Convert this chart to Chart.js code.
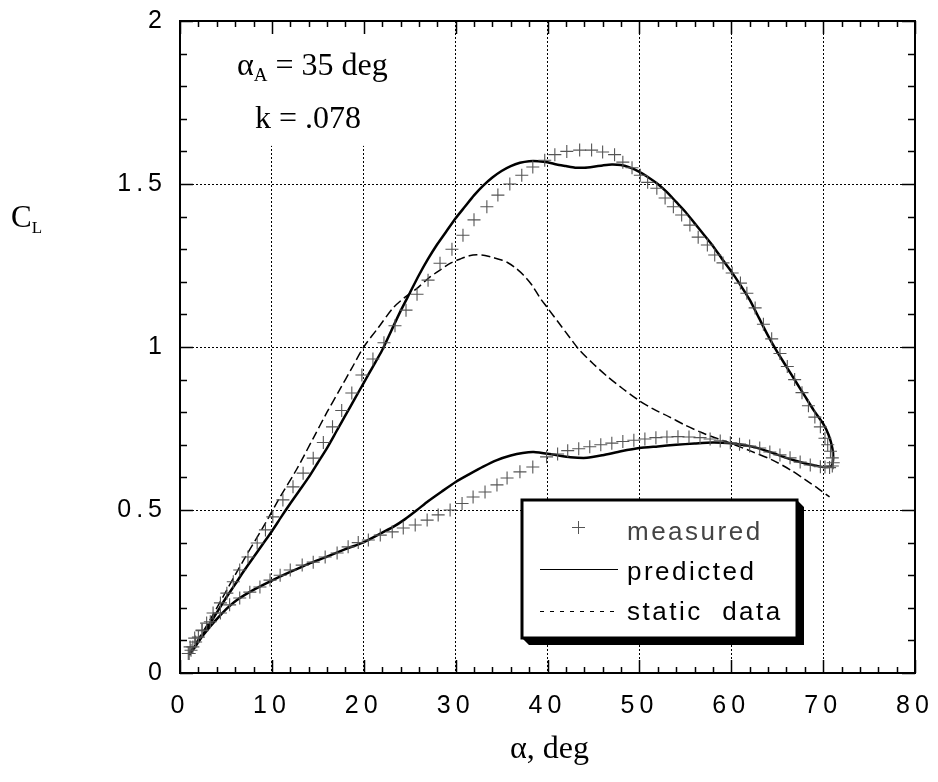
<!DOCTYPE html>
<html><head><meta charset="utf-8">
<script src="https://cdn.jsdelivr.net/npm/chart.js@4/dist/chart.umd.min.js"></script>
<style>html,body{margin:0;padding:0;background:#fff}#wrap{width:938px;height:782px}</style>
</head><body><div id="wrap"><canvas id="c" width="938" height="782"></canvas></div>
<script>
// ---- data (alpha in deg, CL) ----
const xTickLabels = ['0','10','20','30','40','50','60','70','80'];
const yTickLabels = ['0','0.5','1','1.5','2'];

const measuredUpAlpha = [1.0,1.2,1.4,1.7,2.0,2.4,2.9,3.6,4.4,5.1,5.8,6.5,7.4,8.4,9.3,10.1,11.2,12.3,13.4,14.5,15.6,16.6,17.6,18.7,19.8,21.0,22.2,23.4,24.6,25.8,27.0,28.3,29.6,30.8,32.0,33.4,34.6,35.9,37.2,38.4,39.7,40.8,42.1,43.5,44.8,46.0,47.3,48.2,49.2,50.1,50.9,51.9,52.8,53.7,54.6,55.5,56.4,57.4,58.2,59.1,60.1,61.0,61.7,62.6,63.5,64.4,65.3,66.1,66.9,67.7,68.4,69.1,69.7,70.2,70.5,70.8,71.0,71.1];
const measuredUpCL    = [0.06,0.07,0.08,0.095,0.11,0.13,0.153,0.184,0.215,0.245,0.28,0.316,0.356,0.399,0.439,0.479,0.531,0.571,0.613,0.659,0.707,0.755,0.805,0.859,0.914,0.963,1.013,1.065,1.113,1.162,1.205,1.257,1.300,1.343,1.390,1.430,1.466,1.500,1.527,1.552,1.573,1.590,1.600,1.604,1.604,1.598,1.590,1.567,1.550,1.527,1.505,1.487,1.457,1.430,1.405,1.374,1.337,1.313,1.282,1.258,1.227,1.196,1.165,1.120,1.070,1.025,0.980,0.940,0.900,0.860,0.820,0.785,0.755,0.720,0.700,0.680,0.660,0.645];

const measuredDownAlpha = [71.0,70.7,70.2,69.7,68.6,67.5,66.4,65.3,64.2,63.1,62.0,60.9,59.9,58.8,57.7,56.6,55.4,54.2,53.0,51.8,50.6,49.4,48.2,47.0,45.8,44.6,43.4,42.2,41.1,39.9,38.4,37.0,35.6,34.5,33.2,31.9,30.7,29.4,28.1,26.9,25.6,24.3,23.1,21.8,20.5,19.4,18.3,17.1,15.8,14.5,13.3,12.0,10.9,9.8,8.7,7.6,6.5,5.4,4.4,3.3,2.4,1.6,1.1,0.9];
const measuredDownCL    = [0.635,0.630,0.632,0.633,0.638,0.647,0.660,0.669,0.678,0.690,0.696,0.702,0.706,0.712,0.718,0.722,0.724,0.725,0.724,0.722,0.718,0.714,0.710,0.705,0.700,0.694,0.688,0.682,0.672,0.663,0.632,0.617,0.598,0.577,0.555,0.540,0.520,0.500,0.485,0.469,0.454,0.445,0.433,0.423,0.408,0.400,0.387,0.368,0.356,0.340,0.331,0.316,0.300,0.285,0.264,0.248,0.230,0.209,0.184,0.157,0.132,0.107,0.080,0.060];

const predictedAlpha = [1,2,3,4,5,6,7,8,9,10,11,12,13,14,15,16,17,18,19,20,21,22,23,24,25,26,27,28,29,30,31,32,33,34,35,36,37,38,39,40,41,42,43,44,45,46,47,48,49,50,51,52,53,54,55,56,57,58,59,60,61,62,63,64,65,66,67,68,69,70,70.6,71,71.1,70.9,
  70,69,68,67,66,65,64,63,62,61,60,58,56,54,52,50,48,46,44.3,42.5,40.6,38.5,37.3,36,34.5,33,31.5,30,28.5,27,25.8,24.5,23.2,21.5,19.9,18,16,14,12,10.1,8,6.2,5,4,3,2,1];
const predictedCL = [0.055,0.095,0.14,0.185,0.23,0.272,0.315,0.355,0.395,0.435,0.478,0.52,0.56,0.60,0.645,0.69,0.74,0.79,0.84,0.89,0.94,0.99,1.05,1.11,1.165,1.22,1.27,1.315,1.355,1.395,1.43,1.465,1.495,1.52,1.54,1.555,1.565,1.57,1.57,1.567,1.56,1.555,1.55,1.55,1.553,1.557,1.56,1.558,1.55,1.537,1.52,1.50,1.475,1.445,1.415,1.38,1.345,1.31,1.27,1.232,1.19,1.145,1.09,1.035,0.985,0.94,0.895,0.85,0.805,0.765,0.73,0.69,0.66,0.635,
  0.632,0.637,0.643,0.651,0.66,0.67,0.68,0.689,0.696,0.701,0.705,0.707,0.704,0.70,0.695,0.69,0.68,0.668,0.66,0.662,0.67,0.678,0.675,0.667,0.653,0.633,0.61,0.586,0.557,0.527,0.50,0.472,0.448,0.423,0.40,0.38,0.357,0.335,0.31,0.285,0.255,0.224,0.195,0.165,0.133,0.097,0.058];

const staticAlpha = [1,3,5,7,9,10.9,12.7,14.5,16,17.4,18.7,20,21.6,23.2,24.5,25.8,27,28.3,29.5,30.5,31.5,32.3,33.2,34,35,35.6,36.5,37.4,38.3,39.2,40,41.2,42.4,43.5,45,46.5,48.2,49.9,51.5,53.3,55,56.9,58.4,59.9,62,64.5,66.5,68.2,69.5,70.7];
const staticCL    = [0.06,0.15,0.25,0.35,0.445,0.54,0.625,0.72,0.80,0.87,0.935,1.0,1.06,1.12,1.153,1.18,1.21,1.236,1.258,1.27,1.28,1.283,1.281,1.275,1.267,1.26,1.243,1.22,1.19,1.15,1.12,1.075,1.03,0.99,0.948,0.91,0.872,0.837,0.81,0.785,0.76,0.736,0.72,0.705,0.682,0.653,0.622,0.59,0.565,0.54];

const pts = (xs, ys) => xs.map((x, i) => ({x: x, y: ys[i]}));

const SANS = '"Liberation Sans", Arial, Helvetica, sans-serif';
const SERIF = '"Liberation Serif", "Times New Roman", serif';

const decor = {
  id: 'decor',
  beforeDraw(chart) { chart.ctx.letterSpacing = '5px'; },
  beforeDatasetsDraw(chart) {
    const {ctx, chartArea: a, scales: {x, y}} = chart;
    ctx.save();
    ctx.fillStyle = '#fff';
    ctx.fillRect(a.left + 1, a.top + 1, x.getPixelForValue(27) - a.left, y.getPixelForValue(1.62) - a.top);
    ctx.restore();
  },
  afterDatasetsDraw(chart) {
    const {ctx, chartArea: a, scales: {x, y}} = chart;
    ctx.save();
    ctx.letterSpacing = '0px';
    ctx.strokeStyle = '#000';
    ctx.lineWidth = 1.5;
    ctx.beginPath();
    for (let v = 0; v <= 80; v += 2) {
      const px = Math.round(x.getPixelForValue(v)) + 0.5;
      const len = v % 10 === 0 ? 13 : 6;
      ctx.moveTo(px, a.bottom); ctx.lineTo(px, a.bottom - len);
      ctx.moveTo(px, a.top); ctx.lineTo(px, a.top + len);
    }
    for (let k = 0; k <= 20; k++) {
      const py = Math.round(y.getPixelForValue(k / 10)) + 0.5;
      const len = k % 5 === 0 ? 13 : 7;
      ctx.moveTo(a.left, py); ctx.lineTo(a.left + len, py);
      ctx.moveTo(a.right, py); ctx.lineTo(a.right - len, py);
    }
    ctx.stroke();
    ctx.lineWidth = 2;
    ctx.strokeRect(a.left, a.top, a.right - a.left, a.bottom - a.top);

    // annotation
    ctx.fillStyle = '#000';
    ctx.textBaseline = 'alphabetic';
    ctx.textAlign = 'left';
    let tx = 237, ty = 75;
    ctx.font = '32px ' + SERIF;
    ctx.fillText('\u03B1', tx, ty); tx += ctx.measureText('\u03B1').width;
    ctx.font = '19px ' + SERIF;
    ctx.fillText('A', tx, ty + 6); tx += ctx.measureText('A').width;
    ctx.font = '32px ' + SERIF;
    ctx.fillText(' = 35 deg', tx, ty);
    ctx.fillText('k = .078', 255, 128);

    // axis titles
    ctx.font = '31px ' + SERIF;
    ctx.fillText('C', 11, 227);
    const cw = ctx.measureText('C').width;
    ctx.font = '17px ' + SERIF;
    ctx.fillText('L', 11 + cw, 233);
    ctx.font = '32px ' + SERIF;
    ctx.fillText('\u03B1, deg', 510, 758);

    // legend box with shadow
    const L = 522, R = 797, T = 500, B = 638, s = 7;
    ctx.fillStyle = '#000';
    ctx.beginPath();
    ctx.moveTo(R, T); ctx.lineTo(R + s, T + s); ctx.lineTo(R + s, B + s);
    ctx.lineTo(L + s, B + s); ctx.lineTo(L, B); ctx.lineTo(R, B); ctx.closePath();
    ctx.fill();
    ctx.fillStyle = '#fff';
    ctx.fillRect(L, T, R - L, B - T);
    ctx.lineWidth = 3;
    ctx.strokeStyle = '#000';
    ctx.strokeRect(L, T, R - L, B - T);
    ctx.lineWidth = 1;
    ctx.strokeStyle = '#555';
    ctx.beginPath();
    ctx.moveTo(572, 527.5); ctx.lineTo(585, 527.5);
    ctx.moveTo(578.5, 521); ctx.lineTo(578.5, 534);
    ctx.stroke();
    ctx.strokeStyle = '#000';
    ctx.beginPath(); ctx.moveTo(540, 569.5); ctx.lineTo(618, 569.5); ctx.stroke();
    ctx.setLineDash([4, 6]);
    ctx.beginPath(); ctx.moveTo(540, 611.5); ctx.lineTo(618, 611.5); ctx.stroke();
    ctx.setLineDash([]);
    ctx.font = '26px ' + SANS;
    ctx.letterSpacing = '2.5px';
    ctx.fillStyle = '#444';
    ctx.fillText('measured', 627, 540);
    ctx.fillStyle = '#000';
    ctx.fillText('predicted', 627, 580);
    ctx.fillText('static  data', 627, 620);
    ctx.restore();
  }
};

const gridColor = (ctx, lo, hi) => {
  const v = ctx.tick ? ctx.tick.value : null;
  return (v === null || Math.abs(v - lo) < 1e-9 || Math.abs(v - hi) < 1e-9) ? 'rgba(0,0,0,0)' : '#000';
};

new Chart(document.getElementById('c'), {
  type: 'scatter',
  data: {
    datasets: [
      {label: 'measured', data: pts(measuredUpAlpha, measuredUpCL), pointStyle: 'cross', pointRadius: 6.5, borderColor: '#555', backgroundColor: '#555', borderWidth: 1.1, showLine: false},
      {label: 'measured down', data: pts(measuredDownAlpha, measuredDownCL), pointStyle: 'cross', pointRadius: 6.5, borderColor: '#555', backgroundColor: '#555', borderWidth: 1.1, showLine: false},
      {label: 'predicted', data: pts(predictedAlpha, predictedCL), showLine: true, borderColor: '#000', borderWidth: 2.5, pointRadius: 0, tension: 0.2, fill: false},
      {label: 'static data', data: pts(staticAlpha, staticCL), showLine: true, borderColor: '#000', borderWidth: 1.5, borderDash: [9, 4], pointRadius: 0, tension: 0.3, fill: false}
    ]
  },
  options: {
    responsive: false,
    animation: false,
    devicePixelRatio: 1,
    layout: {padding: {left: 0, right: 23, top: 21, bottom: 0}},
    plugins: {legend: {display: false}, tooltip: {enabled: false}},
    scales: {
      x: {
        type: 'linear', min: 0, max: 80,
        afterFit(s) { s.height = 109; s.paddingLeft = 0; s.paddingRight = 0; },
        ticks: {stepSize: 10, padding: 18, color: '#000', font: {family: SANS, size: 25},
          callback: (v, i) => xTickLabels[i]},
        grid: {drawTicks: false, lineWidth: 1, color: c => gridColor(c, 0, 80)},
        border: {display: false, dash: [2, 2]}
      },
      y: {
        type: 'linear', min: 0, max: 2,
        afterFit(s) { s.width = 180; s.paddingTop = 0; s.paddingBottom = 0; },
        ticks: {stepSize: 0.5, padding: 13, color: '#000', font: {family: SANS, size: 25},
          callback: (v, i) => yTickLabels[i]},
        grid: {drawTicks: false, lineWidth: 1, color: c => gridColor(c, 0, 2)},
        border: {display: false, dash: [2, 2]}
      }
    }
  },
  plugins: [decor]
});
</script>
</body></html>
